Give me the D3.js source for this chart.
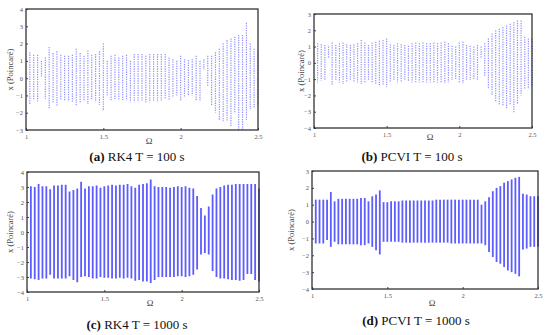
<!DOCTYPE html>
<html><head><meta charset="utf-8">
<script src="https://cdn.jsdelivr.net/npm/d3@7"></script>
<style>
html,body{margin:0;padding:0;background:#fff;}
svg{display:block;}
</style>
</head><body>
<svg id="c" width="550" height="335"></svg>
<script>
const omega = [1.025,1.05,1.075,1.1,1.125,1.15,1.175,1.2,1.225,1.25,1.275,1.3,1.325,1.35,1.375,1.4,1.425,1.45,1.475,1.5,
1.525,1.55,1.575,1.6,1.625,1.65,1.675,1.7,1.725,1.75,1.775,1.8,1.825,1.85,1.875,1.9,1.925,1.95,1.975,2.0,
2.025,2.05,2.075,2.1,2.125,2.15,2.175,2.2,2.225,2.25,2.275,2.3,2.325,2.35,2.375,2.4,2.425,2.45,2.475,2.5];

const aTop = [1.5,1.35,1.35,1.0,1.2,1.8,1.45,1.55,1.35,1.3,1.3,1.35,1.7,1.45,1.3,1.6,1.35,1.4,1.55,2.0,
1.0,1.3,1.35,1.2,1.3,1.35,1.0,1.4,1.4,1.4,1.3,1.4,1.4,1.4,1.4,1.4,1.2,1.1,1.0,1.3,
1.1,1.05,1.1,1.3,1.0,1.1,1.3,1.3,1.5,1.7,2.0,2.2,2.3,2.4,2.5,2.5,3.2,2.0,1.7,1.6];
const aBot = [-1.5,-1.3,-1.35,0.1,-1.2,-1.8,-1.4,-1.6,-1.3,-1.3,-1.35,-1.4,-1.6,-1.4,-1.3,-1.5,-1.3,-1.4,-1.55,-1.9,
-1.0,-1.3,-1.2,-1.3,-1.3,-1.3,-1.4,-1.4,-1.4,-1.3,-1.4,-1.4,-1.3,-1.4,-1.3,-1.2,-1.3,-1.1,-1.0,-1.3,
-1.1,-1.0,-1.0,-1.3,-1.3,0.5,-0.5,-1.6,-2.0,-2.4,-2.5,-2.5,-2.8,-2.0,-3.0,-3.0,-2.4,-1.8,-1.7,-1.6];

const bTop = [1.2,1.15,1.1,1.0,1.25,1.1,1.2,1.25,1.15,1.1,1.15,1.2,1.4,1.25,1.1,1.25,1.3,1.35,1.4,1.5,
1.15,1.1,1.2,1.15,1.1,1.05,1.2,1.25,1.2,1.25,1.2,1.2,1.25,1.2,1.25,1.3,1.2,1.05,1.0,1.25,
1.3,1.1,1.05,1.0,1.1,1.0,1.2,1.5,1.8,2.0,2.1,2.2,2.3,2.4,2.5,2.6,2.6,1.6,1.5,1.5];
const bBot = [-1.2,-1.1,-1.05,0.3,-1.35,-1.1,-1.2,-1.3,-1.2,-1.1,-1.15,-1.2,-1.3,-1.25,-1.1,-1.25,-1.3,-1.4,-1.4,-1.5,
-1.2,-1.1,-1.2,-1.2,-1.1,-1.1,-1.2,-1.25,-1.2,-1.25,-1.2,-1.2,-1.25,-1.2,-1.2,-1.25,-1.2,-1.05,-1.0,-1.2,
-1.25,-1.1,-1.05,-1.0,-1.1,0.3,-0.8,-1.6,-2.0,-2.4,-2.6,-2.6,-2.8,-2.6,-3.1,-2.5,-2.0,-1.6,-1.6,-1.4];

const cTop = [3.05,3.0,3.2,3.05,3.05,2.85,3.1,3.1,3.15,3.15,2.7,2.8,2.9,3.35,2.9,3.05,3.05,3.1,2.95,3.05,
3.1,3.15,3.1,3.15,3.15,3.2,3.05,2.95,3.15,3.2,3.25,3.5,3.05,3.0,3.0,3.0,2.95,3.0,3.05,3.0,
3.05,2.95,2.9,2.4,1.6,1.1,1.7,2.5,2.9,3.0,3.1,3.15,3.15,3.2,3.2,3.2,3.2,3.2,3.2,2.9];
const cBot = [-3.1,-3.15,-3.2,-3.1,-3.1,-2.85,-3.1,-3.1,-3.1,-3.1,-2.95,-3.2,-3.35,-3.0,-2.95,-3.0,-3.1,-3.1,-3.0,-3.05,
-3.05,-3.1,-3.1,-3.05,-3.1,-3.05,-3.1,-3.25,-3.2,-3.3,-3.3,-3.4,-3.2,-3.0,-3.0,-3.0,-3.0,-3.0,-2.95,-2.95,
-3.0,-2.95,-2.85,-2.5,-1.5,-1.4,-1.5,-2.6,-3.0,-3.1,-3.1,-3.15,-3.2,-3.2,-3.25,-3.2,-2.8,-2.8,-3.2,-3.3];

const dTop = [1.3,1.3,1.3,1.3,1.75,1.2,1.35,1.35,1.35,1.35,1.35,1.35,1.4,1.4,1.2,1.5,1.6,1.85,1.15,1.15,
1.2,1.2,1.2,1.25,1.25,1.25,1.25,1.25,1.25,1.25,1.25,1.25,1.3,1.3,1.3,1.3,1.3,1.3,1.3,1.3,
1.3,1.3,1.3,1.3,1.0,1.2,1.45,1.8,2.0,2.1,2.3,2.4,2.5,2.6,2.65,1.65,1.6,1.5,1.5,1.5];
const dBot = [-1.3,-1.3,-1.3,-1.1,-1.5,-1.2,-1.35,-1.35,-1.35,-1.35,-1.35,-1.35,-1.4,-1.4,-1.3,-1.5,-1.7,-1.95,-1.2,-1.2,
-1.2,-1.2,-1.2,-1.25,-1.25,-1.25,-1.25,-1.25,-1.25,-1.25,-1.25,-1.25,-1.25,-1.25,-1.25,-1.25,-1.3,-1.3,-1.3,-1.3,
-1.3,-1.3,-1.3,-1.3,-1.3,-1.4,-1.8,-2.1,-2.4,-2.5,-2.7,-2.9,-3.0,-3.1,-3.25,-1.65,-1.6,-1.5,-1.5,-1.5];

const xTicks = [1, 1.5, 2, 2.5];
const xTickLabels = ["1", "1.5", "2", "2.5"];
const yTicksA = [-3,-2,-1,0,1,2,3,4];
const yTicksB = [-4,-3,-2,-1,0,1,2,3];
const yTicksC = [-4,-3,-2,-1,0,1,2,3,4];
const yTicksD = [-4,-3,-2,-1,0,1,2,3];
const captionLetters = ["(a)", "(b)", "(c)", "(d)"];
const captionTexts = [" RK4 T = 100 s", " PCVI T = 100 s", " RK4 T = 1000 s", " PCVI T = 1000 s"];

const panels = [
  {x0:26, x1:258, y0:9, y1:130, dom:[-3,4], ticks:yTicksA, top:aTop, bot:aBot, dotted:true,
   ylabX:13, omegaY:144, capX:137, capY:161},
  {x0:314, x1:532, y0:14, y1:128, dom:[-4,3], ticks:yTicksB, top:bTop, bot:bBot, dotted:true,
   ylabX:304, omegaY:140, capX:412, capY:161},
  {x0:27, x1:259, y0:172, y1:292, dom:[-4,4], ticks:yTicksC, top:cTop, bot:cBot, dotted:false,
   ylabX:13, omegaY:306, capX:137, capY:329},
  {x0:312, x1:538, y0:171, y1:289, dom:[-4,3], ticks:yTicksD, top:dTop, bot:dBot, dotted:false,
   ylabX:294, omegaY:306, capX:416, capY:325}
];

const svg = d3.select("#c");
const serif = "'Liberation Serif','DejaVu Serif',serif";

panels.forEach((p, i) => {
  const x = d3.scaleLinear().domain([1, 2.5]).range([p.x0, p.x1]);
  const y = d3.scaleLinear().domain(p.dom).range([p.y1, p.y0]);
  const g = svg.append("g");

  g.selectAll("line.col").data(omega.map((o, k) => ({o, t: p.top[k], b: p.bot[k]})))
    .enter().append("line")
    .attr("x1", d => x(d.o)).attr("x2", d => x(d.o))
    .attr("y1", d => y(d.t)).attr("y2", d => y(d.b))
    .attr("stroke", p.dotted ? "#7878ff" : "#5c5cff")
    .attr("stroke-width", p.dotted ? 1.2 : 1.8)
    .attr("stroke-dasharray", p.dotted ? "1.3,1.1" : null)
    .attr("opacity", p.dotted ? 0.8 : 1);

  const ax = d3.axisBottom(x).tickValues(xTicks).tickFormat((d, k) => xTickLabels[k])
    .tickSizeInner(-2).tickSizeOuter(0).tickPadding(4);
  const gx = g.append("g").attr("transform", `translate(0,${p.y1})`).call(ax);
  const ay = d3.axisLeft(y).tickValues(p.ticks).tickFormat(d3.format("d"))
    .tickSizeInner(-2).tickSizeOuter(0).tickPadding(3);
  const gy = g.append("g").attr("transform", `translate(${p.x0},0)`).call(ay);
  [gx, gy].forEach(a => {
    a.select(".domain").remove();
    a.selectAll("line").attr("stroke", "#444");
    a.selectAll("text").attr("font-family", serif).attr("font-size", 6.5).attr("fill", "#555");
  });

  g.append("rect").attr("x", p.x0).attr("y", p.y0)
    .attr("width", p.x1 - p.x0).attr("height", p.y1 - p.y0)
    .attr("fill", "none").attr("stroke", "#333").attr("stroke-width", 1.3);

  g.append("text").attr("x", (p.x0 + p.x1) / 2 + 7).attr("y", p.omegaY)
    .attr("text-anchor", "middle").attr("font-family", serif).attr("font-size", 9)
    .attr("fill", "#444").text("Ω");
  g.append("text")
    .attr("transform", `translate(${p.ylabX},${(p.y0 + p.y1) / 2}) rotate(-90)`)
    .attr("text-anchor", "middle").attr("font-family", serif).attr("font-size", 8.5)
    .attr("fill", "#444").text("x (Poincaré)");

  const cap = g.append("text").attr("x", p.capX).attr("y", p.capY)
    .attr("text-anchor", "middle").attr("font-family", serif).attr("font-size", 13)
    .attr("fill", "#111");
  cap.append("tspan").attr("font-weight", "bold").text(captionLetters[i]);
  cap.append("tspan").text(captionTexts[i]);
});
</script>
</body></html>
